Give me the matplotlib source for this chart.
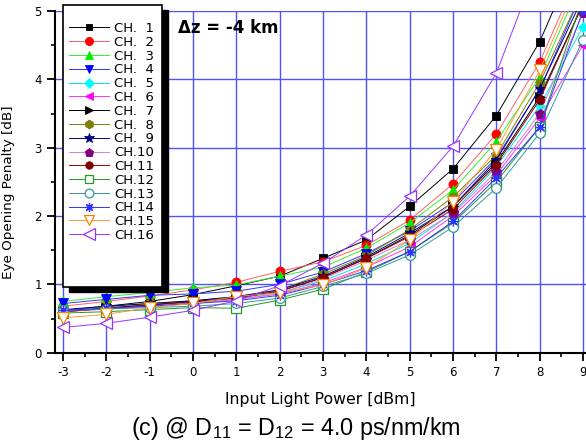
import matplotlib
matplotlib.use("Agg")
import matplotlib.pyplot as plt
from matplotlib.patches import Rectangle
from matplotlib.ticker import MultipleLocator

plt.rcParams['font.family'] = ['DejaVu Sans']
plt.rcParams['mathtext.fontset'] = 'custom'
plt.rcParams['mathtext.rm'] = 'Liberation Sans'
plt.rcParams['axes.unicode_minus'] = False

power = [-3, -2, -1, 0, 1, 2, 3, 4, 5, 6, 7, 8, 9]

ch1 = [0.62, 0.68, 0.75, 0.85, 0.98, 1.12, 1.38, 1.65, 2.14, 2.69, 3.47, 4.55, 6.0]
ch2 = [0.68, 0.75, 0.83, 0.92, 1.03, 1.19, 1.33, 1.57, 1.94, 2.47, 3.20, 4.25, 5.7]
ch3 = [0.75, 0.82, 0.88, 0.95, 0.99, 1.12, 1.25, 1.53, 1.90, 2.38, 3.09, 4.03, 5.5]
ch4 = [0.72, 0.78, 0.84, 0.86, 0.90, 1.00, 1.18, 1.45, 1.78, 2.20, 2.85, 3.85, 5.3]
ch5 = [0.62, 0.66, 0.70, 0.75, 0.80, 0.88, 1.05, 1.30, 1.60, 2.05, 2.72, 3.61, 4.77]
ch6 = [0.60, 0.64, 0.68, 0.72, 0.78, 0.86, 1.02, 1.25, 1.55, 2.00, 2.60, 3.43, 4.50]
ch7 = [0.60, 0.65, 0.70, 0.75, 0.80, 0.90, 1.10, 1.38, 1.72, 2.14, 2.78, 3.74, 5.1]
ch8 = [0.62, 0.67, 0.72, 0.76, 0.82, 0.92, 1.15, 1.42, 1.80, 2.28, 2.89, 3.95, 5.3]
ch9 = [0.63, 0.68, 0.72, 0.76, 0.82, 0.92, 1.12, 1.40, 1.75, 2.14, 2.82, 3.86, 5.2]
ch10 = [0.60, 0.64, 0.68, 0.72, 0.78, 0.87, 1.08, 1.35, 1.65, 2.04, 2.65, 3.50, 4.97]
ch11 = [0.60, 0.65, 0.70, 0.74, 0.80, 0.90, 1.10, 1.38, 1.70, 2.10, 2.75, 3.70, 5.1]
ch12 = [0.58, 0.60, 0.63, 0.66, 0.65, 0.77, 0.93, 1.18, 1.48, 1.90, 2.50, 3.30, 5.2]
ch13 = [0.62, 0.64, 0.66, 0.68, 0.72, 0.80, 0.97, 1.16, 1.43, 1.84, 2.41, 3.21, 4.58]
ch14 = [0.62, 0.65, 0.68, 0.72, 0.76, 0.84, 1.00, 1.20, 1.48, 1.92, 2.56, 3.30, 5.0]
ch15 = [0.51, 0.56, 0.66, 0.72, 0.82, 0.88, 0.99, 1.24, 1.65, 2.21, 2.97, 4.13, 5.6]
ch16 = [0.37, 0.43, 0.52, 0.62, 0.76, 0.98, 1.31, 1.72, 2.29, 3.02, 4.09, 5.75, 8.0]

series = [ch1, ch2, ch3, ch4, ch5, ch6, ch7, ch8, ch9, ch10, ch11, ch12, ch13, ch14, ch15, ch16]
labels = ['CH.  1', 'CH.  2', 'CH.  3', 'CH.  4', 'CH.  5', 'CH.  6', 'CH.  7', 'CH.  8',
          'CH.  9', 'CH.10', 'CH.11', 'CH.12', 'CH.13', 'CH.14', 'CH.15', 'CH.16']

line_colors = ['#000000', '#ff6060', '#33ee33', '#3333ff', '#00e5e5', '#ff33ff', '#000000', '#808000',
               '#000080', '#cc88cc', '#990000', '#229922', '#339999', '#3333ff', '#ff9933', '#9933ff']
marker_colors = ['#000000', '#ff0000', '#00ee00', '#0000ff', '#00ffff', '#ff00ff', '#000000', '#808000',
                 '#000080', '#800080', '#800000', '#229922', '#339999', '#3333ff', '#ff8000', '#9933ff']
markers = ['s', 'o', '^', 'v', 'D', '<', '>', 'h', '*', 'p', 'o', 's', 'o', (8, 2, 0), 'v', '<']
filled = [True] * 11 + [False] * 5
msizes = [5.5, 6.5, 7, 7, 5.2, 7, 7, 7, 8, 7, 6, 6.5, 7, 7, 8.5, 9]

fig = plt.figure(figsize=(5.86, 4.45), dpi=100)
W, H = 586, 445
ax = fig.add_axes([55 / W, 1 - 352.7 / H, 531 / W, (352.7 - 11) / H])

handles = []
for y, lab, lc, mc, mk, fl, ms in zip(series, labels, line_colors, marker_colors, markers, filled, msizes):
    h, = ax.plot(power, y, color=lc, lw=0.7, marker=mk, markersize=ms,
                 markerfacecolor=(mc if fl else 'white'), markeredgecolor=mc,
                 markeredgewidth=(0.6 if fl else 0.9), label=lab, clip_on=True)
    handles.append(h)

ax.set_xlim(-3.185, 9.07)
ax.set_ylim(0, 5)
ax.xaxis.set_major_locator(MultipleLocator(1))
ax.xaxis.set_minor_locator(MultipleLocator(0.5))
ax.yaxis.set_major_locator(MultipleLocator(1))
ax.yaxis.set_minor_locator(MultipleLocator(0.5))
ax.grid(True, which='major', color='#5050ff', lw=1.0)
ax.set_axisbelow(True)
ax.spines['top'].set_visible(False)
ax.spines['right'].set_visible(False)
ax.spines['left'].set_linewidth(1.5)
ax.spines['bottom'].set_linewidth(1.5)
ax.tick_params(which='major', direction='out', length=6, width=1.3, labelsize=8.5)
ax.tick_params(which='minor', direction='out', length=3, width=1.2)

ax.set_xlabel('Input Light Power [dBm]', fontsize=11.3)
ax.xaxis.set_label_coords(0.5, -0.115)
ax.set_ylabel('Eye Opening Penalty [dB]', fontsize=9.7)
ax.yaxis.set_label_coords(-0.075, 0.47)

ax.text(178 / W, 1 - 28 / H, '\u0394z = -4 km', transform=fig.transFigure,
        fontsize=12, fontweight='bold', ha='left', va='center')

fig.text(296 / W, 1 - 428 / H, '(c) @ D$_\\mathrm{11}$ = D$_\\mathrm{12}$ = 4.0 ps/nm/km',
         family=['Liberation Sans', 'DejaVu Sans'], fontsize=16.8, ha='center', va='center')

# legend frame with shadow
shadow = Rectangle((69 / W, 1 - 292 / H), 99 / W, 282 / H, transform=fig.transFigure,
                   facecolor='black', edgecolor='black', zorder=4.8, clip_on=False)
frame = Rectangle((63 / W, 1 - 287 / H), 99 / W, 282 / H, transform=fig.transFigure,
                  facecolor='white', edgecolor='black', lw=1.2, zorder=4.9, clip_on=False)
ax.add_artist(shadow)
ax.add_artist(frame)
leg = ax.legend(handles=handles, loc='upper left', bbox_to_anchor=(69 / W, 1 - 22 / H),
                bbox_transform=fig.transFigure, frameon=False, borderpad=0, borderaxespad=0,
                fontsize=9.5, handlelength=3.0, handletextpad=0.4, labelspacing=0.06,
                markerscale=0.9)
leg.set_zorder(5)

fig.savefig('out.png', dpi=100)
